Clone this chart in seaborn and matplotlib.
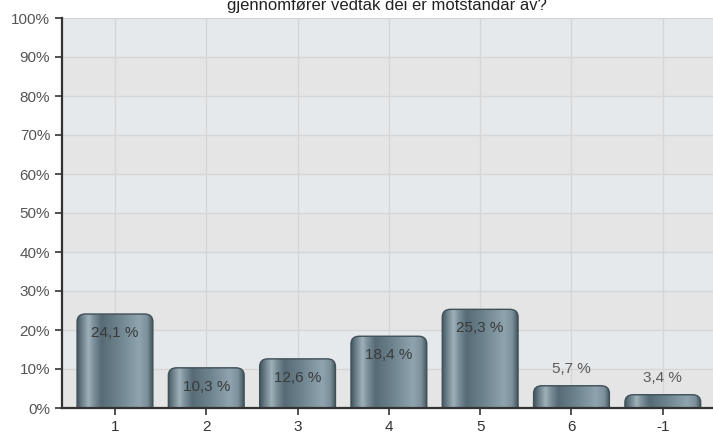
import numpy as np
import pandas as pd
import seaborn as sns
import matplotlib.pyplot as plt
from matplotlib.patches import FancyBboxPatch
from matplotlib.colors import LinearSegmentedColormap

# answers and share of respondents (%)
categories = ["1", "2", "3", "4", "5", "6", "-1"]
values = [24.1, 10.3, 12.6, 18.4, 25.3, 5.7, 3.4]
labels = ["24,1 %", "10,3 %", "12,6 %", "18,4 %", "25,3 %", "5,7 %", "3,4 %"]
yticks = list(range(0, 101, 10))
title = "gjennomfører vedtak dei er motstandar av?"

sns.set_theme(style="white")
plt.rcParams['font.family'] = ['Liberation Sans', 'DejaVu Sans']

df = pd.DataFrame({"svar": categories, "andel": values})

fig = plt.figure(figsize=(7.13, 4.34), dpi=100)
ax = fig.add_axes([62 / 713, 26 / 434, 651 / 713, 390 / 434])

sns.barplot(data=df, x="svar", y="andel", order=categories, width=0.83,
            color="#6b808a", ax=ax, zorder=3)
bars = list(ax.patches)

# alternating background bands
for i, lo in enumerate(range(0, 100, 10)):
    col = "#e5e5e5" if i % 2 == 0 else "#e6e9ec"
    ax.axhspan(lo, lo + 10, color=col, zorder=0, lw=0)
for y in yticks:
    ax.axhline(y, color="#d6d6d6", lw=1, zorder=1)
for x in range(len(categories)):
    ax.axvline(x, color="#d6d6d6", lw=1, zorder=1)

# metallic horizontal gradient for the bars
grad = LinearSegmentedColormap.from_list("metal", [
    (0.00, "#465962"), (0.07, "#6f848e"), (0.15, "#9fb1b9"), (0.22, "#7a8f99"),
    (0.32, "#566b75"), (0.55, "#6d838e"), (0.82, "#8fa4ae"), (0.93, "#7b909a"),
    (1.00, "#45575f")])
g = np.linspace(0, 1, 200).reshape(1, -1)

for p in bars:
    x0, w, h = p.get_x(), p.get_width(), p.get_height()
    p.set_visible(False)
    box = FancyBboxPatch((x0, -5), w, h + 5,
                         boxstyle="round,pad=0,rounding_size=0.09",
                         mutation_aspect=22, facecolor="none",
                         edgecolor="#3f5058", lw=1.0, zorder=4)
    ax.add_patch(box)
    im = ax.imshow(g, cmap=grad, aspect="auto", extent=(x0, x0 + w, 0, h),
                   zorder=3, interpolation="bicubic")
    im.set_clip_path(box)

ax.set_xlim(-0.58, 6.55)
ax.set_ylim(0, 100)

for i, (v, lab) in enumerate(zip(values, labels)):
    if v > 8:
        ax.text(i, v - 4.9, lab, ha="center", va="center", fontsize=11,
                color="#3a3a3a", zorder=6)
    else:
        ax.text(i, v + 4.4, lab, ha="center", va="center", fontsize=11,
                color="#5a5a5a", zorder=6)

ax.set_yticks(yticks)
ax.set_yticklabels([f"{y}%" for y in yticks])
ax.set_xlabel("")
ax.set_ylabel("")
ax.tick_params(axis="both", labelsize=11, colors="#333333", labelcolor="#555555",
               length=5, width=1.2, direction="out", left=True, bottom=True)
ax.tick_params(axis="x", labelcolor="#333333")
for s in ["top", "right"]:
    ax.spines[s].set_visible(False)
for s in ["left", "bottom"]:
    ax.spines[s].set_color("#333333")
    ax.spines[s].set_linewidth(1.6)
    ax.spines[s].set_zorder(7)

fig.text(387 / 713, 1 - 10 / 434, title, ha="center", va="baseline",
         fontsize=12, color="#222222")

fig.savefig("out.png", dpi=100)
